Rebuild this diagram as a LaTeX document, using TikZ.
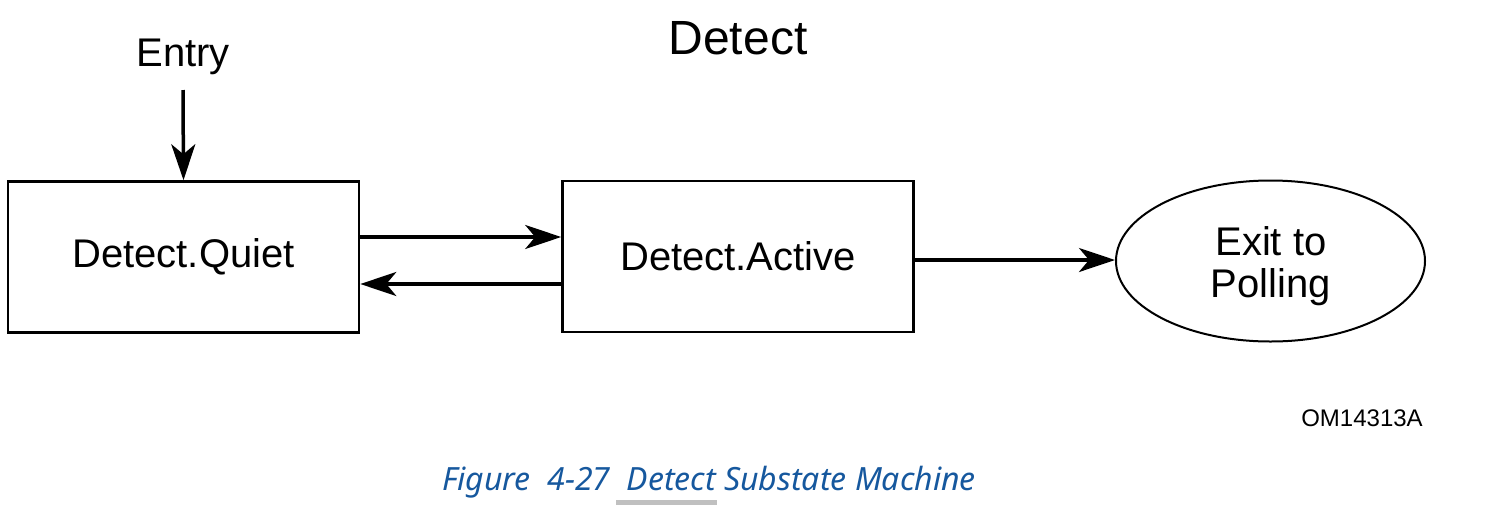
\documentclass[tikz,border=0pt]{standalone}
\usepackage{fontspec}
\setmainfont{Liberation Sans}
\newfontfamily\capfont{Noto Sans}
\usetikzlibrary{arrows.meta,shapes.geometric}
\definecolor{capblue}{RGB}{22,88,158}
\definecolor{bargray}{RGB}{192,192,192}
\begin{document}
\begin{tikzpicture}[x=1pt,y=-1pt,
  statebox/.style={draw,line width=2.6pt,minimum width=351pt,minimum height=151pt,inner sep=0pt,font=\fontsize{40}{44}\selectfont},
  exitell/.style={draw,ellipse,line width=2pt,minimum width=309pt,minimum height=161pt,inner sep=0pt},
  flow/.style={line width=3.5pt,-{Stealth[length=36pt,width=24pt,inset=10pt]}},
  lbl/.style={inner sep=0pt,font=\fontsize{40}{44}\selectfont}]
\useasboundingbox (0,0) rectangle (1489,507);
\node[lbl,font=\fontsize{48}{52}\selectfont] (title) at (738,38) {Detect};
\node[lbl] (entry) at (183,57) {Entry};
\coordinate (entrytop) at (183,90);
\node[statebox] (quiet) at (183.5,257) {Detect.Quiet};
\node[statebox] (active) at (738,256.5) {Detect.Active};
\node[exitell] (exit) at (1270.5,261) {};
\node[lbl,align=center,font=\fontsize{40}{42}\selectfont] (exittext) at (1271,266) {Exit to\\Polling};
\node[lbl,font=\fontsize{24}{26}\selectfont] (om) at (1362,418) {OM14313A};
\draw[flow] (entrytop) -- (quiet.north);
\draw[flow] (quiet.east |- 0,237) -- (active.west |- 0,237);
\draw[flow] (active.west |- 0,284) -- (quiet.east |- 0,284);
\draw[flow] (active.east |- 0,260) -- (exit.west |- 0,260);
\node[inner sep=0pt,text=capblue,font=\capfont\itshape\fontsize{32}{36}\selectfont] (cap) at (709,482) {Figure\ \ 4-27\ \ Detect Substate Machine};
\fill[bargray] (616,500) rectangle (717,505);
\end{tikzpicture}
\end{document}
